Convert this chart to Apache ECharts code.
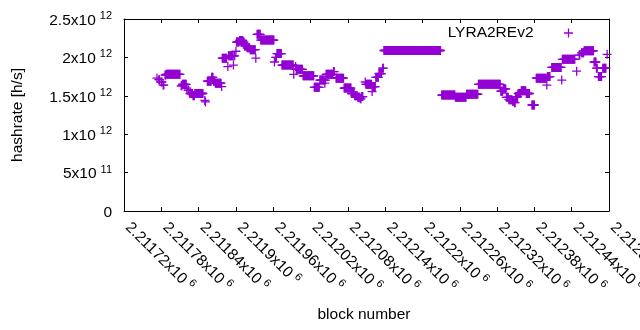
<!DOCTYPE html>
<html>
<head>
<meta charset="utf-8">
<script src="https://cdn.jsdelivr.net/npm/echarts@6/dist/echarts.min.js"></script>
<style>
  html, body { margin: 0; padding: 0; background: #fff; }
  #chart { width: 640px; height: 330px; }
</style>
</head>
<body>
<div id="chart"></div>
<script>
// runs of consecutive blocks that share one hashrate reading
const runFirst = [
  2211773, 2211776, 2211780, 2211783, 2211786, 2211788, 2211812, 2211814, 2211821, 2211823,
  2211826, 2211831, 2211834, 2211850, 2211851, 2211854, 2211861, 2211864, 2211867, 2211877,
  2211878, 2211887, 2211888, 2211896, 2211897, 2211900, 2211901, 2211906, 2211912, 2211914,
  2211918, 2211923, 2211932, 2211934, 2211940, 2211962, 2211964, 2211966, 2211974, 2211993,
  2211996, 2211997, 2212008, 2212026, 2212035, 2212043, 2212044, 2212045, 2212057, 2212061,
  2212074, 2212086, 2212091, 2212096, 2212100, 2212102, 2212108, 2212109, 2212119, 2212120,
  2212125, 2212130, 2212136, 2212138, 2212231, 2212253, 2212271, 2212290, 2212326, 2212330,
  2212335, 2212339, 2212345, 2212348, 2212350, 2212354, 2212359, 2212367, 2212376, 2212383,
  2212400, 2212401, 2212408, 2212424, 2212425, 2212448, 2212452, 2212456, 2212460, 2212476,
  2212480, 2212483, 2212490, 2212497
];
const runLast = [
  2211773, 2211777, 2211781, 2211784, 2211787, 2211810, 2211813, 2211820, 2211821, 2211824,
  2211830, 2211833, 2211847, 2211850, 2211851, 2211860, 2211863, 2211866, 2211876, 2211877,
  2211885, 2211887, 2211895, 2211896, 2211898, 2211900, 2211905, 2211911, 2211913, 2211917,
  2211922, 2211931, 2211932, 2211939, 2211961, 2211962, 2211965, 2211973, 2211992, 2211993,
  2211996, 2212007, 2212025, 2212034, 2212042, 2212043, 2212044, 2212056, 2212058, 2212073,
  2212085, 2212090, 2212095, 2212099, 2212101, 2212104, 2212108, 2212118, 2212119, 2212124,
  2212129, 2212134, 2212137, 2212229, 2212252, 2212270, 2212289, 2212325, 2212329, 2212334,
  2212338, 2212344, 2212347, 2212349, 2212353, 2212358, 2212366, 2212372, 2212380, 2212399,
  2212400, 2212405, 2212423, 2212424, 2212445, 2212448, 2212453, 2212459, 2212475, 2212479,
  2212481, 2212488, 2212495, 2212497
];
const runHashrate = [
  1.73e12, 1.71e12, 1.68e12, 1.64e12, 1.77e12, 1.78e12, 1.63e12, 1.65e12, 1.60e12, 1.575e12,
  1.53e12, 1.50e12, 1.53e12, 1.44e12, 1.42e12, 1.69e12, 1.74e12, 1.69e12, 1.665e12, 1.62e12,
  1.99e12, 1.88e12, 2.02e12, 1.90e12, 2.02e12, 2.08e12, 2.20e12, 2.22e12, 2.20e12, 2.15e12,
  2.125e12, 2.10e12, 1.99e12, 2.30e12, 2.225e12, 1.94e12, 2.00e12, 2.05e12, 1.90e12, 1.78e12,
  1.88e12, 1.845e12, 1.76e12, 1.61e12, 1.705e12, 1.665e12, 1.705e12, 1.78e12, 1.815e12, 1.73e12,
  1.60e12, 1.53e12, 1.50e12, 1.48e12, 1.46e12, 1.49e12, 1.68e12, 1.65e12, 1.555e12, 1.62e12,
  1.74e12, 1.79e12, 1.86e12, 2.09e12, 1.51e12, 1.48e12, 1.52e12, 1.65e12, 1.56e12, 1.59e12,
  1.48e12, 1.45e12, 1.43e12, 1.41e12, 1.49e12, 1.53e12, 1.565e12, 1.53e12, 1.38e12, 1.73e12,
  1.64e12, 1.75e12, 1.87e12, 1.705e12, 1.975e12, 1.82e12, 2.03e12, 2.06e12, 2.085e12, 1.94e12,
  1.86e12, 1.75e12, 1.86e12, 2.04e12
];
const seriesName = 'LYRA2REv2';

// one point per block
const points = [];
for (let i = 0; i < runFirst.length; i++) {
  for (let b = runFirst[i]; b <= runLast[i]; b++) {
    points.push([b, runHashrate[i]]);
  }
}

const FONT = 'Liberation Sans, Arial, sans-serif';
const FS = 15.5;
const PLUS = 'path://M0,3.85H9V5.15H0Z M3.85,0H5.15V9H3.85Z';

// gnuplot style "2.5x10^12" labels
function sci(v) {
  if (v === 0) return '{m|0}';
  const e = Math.floor(Math.log10(Math.abs(v)) + 1e-9);
  const m = parseFloat((v / Math.pow(10, e)).toPrecision(8));
  return '{m|' + m + 'x10}{e|' + e + '}';
}
const rich = {
  m: { fontSize: FS, fontFamily: FONT, color: '#000', lineHeight: 19, verticalAlign: 'bottom' },
  e: { fontSize: 11, fontFamily: FONT, color: '#000', lineHeight: 19, padding: [0, 0, 7, 4], verticalAlign: 'bottom' }
};
// x labels are rotated, nudge them along the text direction
const richX = {
  m: Object.assign({}, rich.m, { padding: [0, 0, 0, 7] }),
  e: rich.e
};

const chart = echarts.init(document.getElementById('chart'));
const axisLine = { show: true, onZero: false, lineStyle: { color: '#000', width: 1 } };
const tick = { show: true, inside: true, length: 4, lineStyle: { color: '#000', width: 1 } };

chart.setOption({
  animation: false,
  backgroundColor: '#fff',
  grid: { left: 124, right: 31, top: 19, bottom: 119, containLabel: false, outerBoundsMode: 'none' },
  legend: {
    right: 62,
    top: 20,
    align: 'right',
    itemWidth: 9,
    itemHeight: 9,
    selectedMode: false,
    data: [{ name: seriesName, icon: PLUS }],
    textStyle: { fontSize: FS, fontFamily: FONT, color: '#000', padding: [0, 25.5, 0, 0] }
  },
  xAxis: [{
    type: 'value',
    min: 2211720,
    max: 2212500,
    interval: 60,
    axisLine: axisLine,
    axisTick: tick,
    splitLine: { show: false },
    axisLabel: { rotate: -45, margin: 8, formatter: sci, rich: richX }
  }, {
    type: 'value',
    position: 'top',
    min: 2211720,
    max: 2212500,
    interval: 60,
    axisLine: axisLine,
    axisTick: tick,
    splitLine: { show: false },
    axisLabel: { show: false }
  }],
  yAxis: [{
    type: 'value',
    min: 0,
    max: 2.5e12,
    interval: 0.5e12,
    axisLine: axisLine,
    axisTick: tick,
    splitLine: { show: false },
    axisLabel: { margin: 12, formatter: sci, rich: rich }
  }, {
    type: 'value',
    position: 'right',
    min: 0,
    max: 2.5e12,
    interval: 0.5e12,
    axisLine: axisLine,
    axisTick: tick,
    splitLine: { show: false },
    axisLabel: { show: false }
  }],
  graphic: [{
    type: 'text',
    x: 364,
    y: 315,
    style: { text: 'block number', fontSize: FS, fontFamily: FONT, fill: '#000', align: 'center', verticalAlign: 'middle' }
  }, {
    type: 'text',
    x: 18,
    y: 115,
    rotation: Math.PI / 2,
    style: { text: 'hashrate [h/s]', fontSize: FS, fontFamily: FONT, fill: '#000', align: 'center', verticalAlign: 'middle' }
  }],
  series: [{
    name: seriesName,
    type: 'scatter',
    symbol: PLUS,
    symbolSize: 9,
    itemStyle: { color: '#9400d3', opacity: 1 },
    data: points
  }]
});
</script>
</body>
</html>
